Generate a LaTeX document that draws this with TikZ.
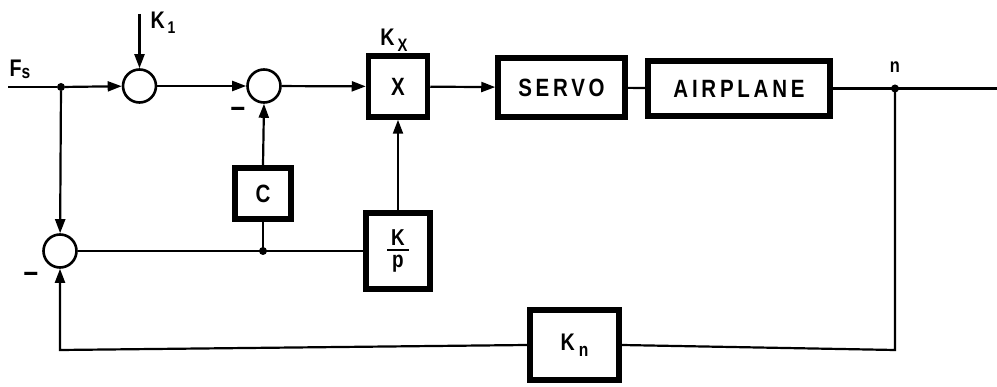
\documentclass[tikz,border=0pt]{standalone}
\usepackage{fontspec}
\setmainfont{Liberation Sans}
\newfontfamily\lab[LetterSpace=15,FakeStretch=0.82]{Liberation Sans Bold}
\newfontfamily\labn[FakeStretch=0.82,Ligatures=TeX]{Liberation Sans Bold}
\usetikzlibrary{arrows.meta}
\begin{document}
\begin{tikzpicture}[x=1pt,y=-1pt,
  sumnode/.style={circle,draw,line width=2.6pt,minimum size=33pt,inner sep=0pt},
  blk/.style={draw,line width=5.5pt,inner sep=0pt,font=\lab\fontsize{25}{27}\selectfont},
  dotnode/.style={circle,fill,inner sep=0pt,minimum size=8pt},
  lbl/.style={font=\labn\fontsize{24}{26}\selectfont,inner sep=0pt},
  minus/.style={font=\labn\fontsize{32}{32}\selectfont,inner sep=0pt},
  wire/.style={line width=2.2pt},
  arr/.style={wire,-{Triangle[length=14pt,width=10pt]}}]
\useasboundingbox (0,0) rectangle (997,387);
% summers
\node[sumnode] (s1) at (139.5,86) {};
\node[sumnode] (s2) at (264,86) {};
\node[sumnode] (s3) at (60,251) {};
% blocks
\node[blk,minimum width=59pt,minimum height=61pt] (X) at (398,86.5) {X};
\node[blk,minimum width=127pt,minimum height=59pt] (servo) at (561.5,87.5) {SERVO};
\node[blk,minimum width=182pt,minimum height=55pt] (air) at (739,88.5) {AIRPLANE};
\node[blk,minimum width=56pt,minimum height=51pt] (C) at (263,193.5) {C};
\node[blk,minimum width=64pt,minimum height=76pt,font=\labn\fontsize{23}{23}\selectfont] (Kp) at (398,251)
  {\shortstack{K\\[1pt]\rule{22pt}{1.8pt}\\[1pt]p}};
\node[blk,minimum width=89pt,minimum height=70pt,font=\labn\fontsize{24}{26}\selectfont] (Kn) at (574.5,345) {K\,{\fontsize{19}{19}\selectfont\raisebox{-6pt}{n}}};
% junction dots
\node[dotnode] (j1) at (61,87) {};
\node[dotnode] (j2) at (263,251) {};
\node[dotnode] (jn) at (895,88.5) {};
% coordinates
\coordinate (in) at (8,87);
\coordinate (out) at (997,88.5);
\coordinate (k1top) at (139.5,14);
\coordinate (bl) at (60,350);
\coordinate (br) at (895,350);
% labels
\node[lbl] (fs) at (20,69) {F{\fontsize{19}{19}\selectfont\raisebox{-2pt}{s}}};
\node[lbl] (k1) at (163,23) {K{\fontsize{17}{17}\selectfont\raisebox{-5pt}{\,1}}};
\node[lbl] (kx) at (394,40) {K{\fontsize{18}{18}\selectfont\raisebox{-6pt}{\,X}}};
\node[lbl,font=\labn\fontsize{20}{22}\selectfont] (nl) at (895,67) {n};
\node[minus] (m2) at (238,112) {–};
\node[minus] (m3) at (31,277) {–};
% connectors
\draw[wire] (in) -- (j1);
\draw[arr] (j1) -- (s1);
\draw[arr] (k1top) -- (s1);
\draw[arr] (s1) -- (s2);
\draw[arr] (s2) -- (X);
\draw[arr] (X) -- (servo);
\draw[wire] (servo) -- (air);
\draw[wire] (air.east) -- (jn.center) -- (out);
\draw[arr] (j1) -- (s3);
\draw[wire] (s3.east) -- (Kp.west);
\draw[wire] (j2.center) -- (C.south);
\draw[arr] (C.north) -- (s2.south);
\draw[arr] (Kp.north) -- (X.south);
\draw[wire] (jn.center) -- (br) -- (Kn.east);
\draw[arr] (Kn.west) -- (bl) -- (s3.south);
\end{tikzpicture}
\end{document}
